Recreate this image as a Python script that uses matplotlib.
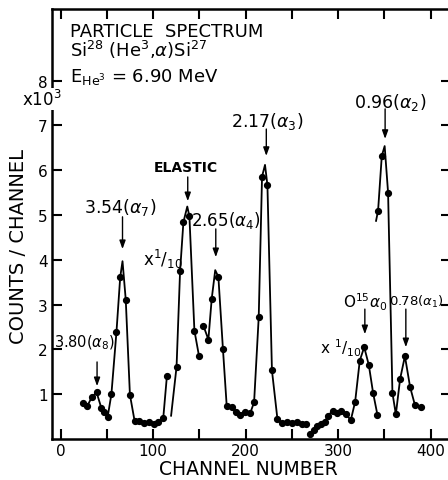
import matplotlib
matplotlib.use("Agg")
import matplotlib.pyplot as plt
import numpy as np

# ---------------- data ----------------
# segment 1: 3.80(a8) and 3.54(a7) peaks + valley
seg1_ch = [24, 29, 34, 39, 44, 47.5, 51, 55, 60.5, 64.5, 70.5, 75, 80, 85, 90, 95.5, 100.5, 105, 111, 115]
seg1_ct = [0.81, 0.74, 0.94, 1.04, 0.70, 0.60, 0.50, 1.00, 2.40, 3.61, 3.11, 0.99, 0.41, 0.41, 0.36, 0.38, 0.33, 0.38, 0.46, 1.41]
seg1_apex_ch = [67]
seg1_apex_ct = [3.97]

# segment 2: elastic peak (x 1/10)
seg2_ch = [125.4, 129.2, 132.8, 139.3, 144.7, 149.7]
seg2_ct = [1.61, 3.74, 4.84, 4.97, 2.42, 1.85]
seg2_apex_ch = [119.5, 137]
seg2_apex_ct = [0.52, 5.19]

# segment 3: 2.65(a4) and 2.17(a3)
seg3_ch = [154.4, 159.8, 163.4, 170.6, 175.5, 179.6, 185, 189.4, 194, 199.5, 204.9, 209.2, 214.2,
           217.8, 223.6, 228.5, 234.4, 239.1, 244.5, 249.9, 255.4, 260.8, 265.4]
seg3_ct = [2.53, 2.22, 3.13, 3.62, 2.02, 0.74, 0.71, 0.61, 0.54, 0.61, 0.57, 0.82, 2.72,
           5.86, 5.67, 1.53, 0.45, 0.35, 0.38, 0.35, 0.37, 0.34, 0.33]
seg3_apex_ch = [167.2, 221]
seg3_apex_ct = [3.77, 6.12]

# segment 4: O15 alpha0 (x 1/10)
seg4_ch = [269.5, 273.5, 277.6, 282, 285.6, 289.2, 294, 298.6, 303.6, 308.3, 313.7, 318.4, 323.4,
           328.2, 333.2, 337.8, 342.5]
seg4_ct = [0.11, 0.21, 0.28, 0.33, 0.39, 0.52, 0.63, 0.58, 0.63, 0.56, 0.42, 0.83, 1.75,
           2.05, 1.65, 1.03, 0.54]
seg4_apex_ch = []
seg4_apex_ct = []

# segment 5: 0.96(a2) and 0.78(a1)
seg5_ch = [343.2, 347.2, 354, 358.7, 362.4, 367, 372.2, 377.8, 383, 389.2]
seg5_ct = [5.10, 6.32, 5.50, 1.03, 0.55, 1.34, 1.85, 1.16, 0.76, 0.71]
seg5_apex_ch = [341, 350.3]
seg5_apex_ct = [4.87, 6.54]

x_major = [0, 100, 200, 300, 400]
x_minor = [50, 150, 250, 350]
y_ticks = [1, 2, 3, 4, 5, 6, 7, 8]

segments = [
    (seg1_ch, seg1_ct, seg1_apex_ch, seg1_apex_ct),
    (seg2_ch, seg2_ct, seg2_apex_ch, seg2_apex_ct),
    (seg3_ch, seg3_ct, seg3_apex_ch, seg3_apex_ct),
    (seg4_ch, seg4_ct, seg4_apex_ch, seg4_apex_ct),
    (seg5_ch, seg5_ct, seg5_apex_ch, seg5_apex_ct),
]

# ---------------- figure ----------------
plt.rcParams['font.family'] = ['DejaVu Sans']
plt.rcParams['mathtext.fontset'] = 'dejavusans'

fig = plt.figure(figsize=(4.48, 4.81), dpi=100)
ax = fig.add_axes([52 / 448, 41 / 481, 399 / 448, 430 / 481])
ax.set_xlim(-9.2, 422)
ax.set_ylim(0, 9.6)

for ch, ct, ach, act in segments:
    lx = np.array(list(ch) + list(ach))
    ly = np.array(list(ct) + list(act))
    order = np.argsort(lx)
    ax.plot(lx[order], ly[order], color='black', lw=1.3, solid_joinstyle='round')
    ax.plot(ch, ct, 'o', color='black', ms=4.2)

for s in ax.spines.values():
    s.set_linewidth(1.8)

ax.set_xticks(x_major)
ax.set_xticks(x_minor, minor=True)
ax.set_xticklabels([str(v) for v in x_major])
ax.set_yticks(y_ticks)
ax.set_yticklabels([str(v) for v in y_ticks])
ax.tick_params(which='both', direction='in', top=True, right=True,
               length=7, width=1.5, labelsize=11, pad=3)

ax.set_xlabel('CHANNEL NUMBER', fontsize=13.5)
ax.xaxis.set_label_coords(0.491, -0.047)
ax.set_ylabel('COUNTS / CHANNEL', fontsize=14)
ax.yaxis.set_label_coords(-0.06, 0.449)

# header text
ax.text(10.3, 9.11, 'PARTICLE  SPECTRUM', fontsize=13, ha='left', va='center')
ax.text(10.3, 8.71, r'Si$^{28}$ (He$^{3}$,$\alpha$)Si$^{27}$', fontsize=13, ha='left', va='center')
ax.text(10.3, 8.10, r'E$_{\mathrm{He}^{3}}$ = 6.90 MeV', fontsize=13, ha='left', va='center')

# x10^3 multiplier (covers the spine like the original)
ax.text(-20, 7.59, r'x10$^{3}$', fontsize=12, ha='center', va='center', clip_on=False,
        bbox=dict(facecolor='white', edgecolor='none', pad=0.5), zorder=5)

def arrow(x, y0, y1):
    ax.annotate('', xy=(x, y1), xytext=(x, y0),
                arrowprops=dict(arrowstyle='-|>,head_length=0.5,head_width=0.18',
                                color='black', lw=1.0, shrinkA=0, shrinkB=0))

ax.text(-7, 2.17, r'3.80($\alpha_8$)', fontsize=10.5, ha='left', va='center')
arrow(39.5, 1.72, 1.18)
ax.text(64.3, 5.20, r'3.54($\alpha_7$)', fontsize=12.5, ha='center', va='center')
arrow(67, 4.96, 4.24)
ax.text(135, 6.07, 'ELASTIC', fontsize=10, fontweight='bold', ha='center', va='center')
arrow(137.5, 5.85, 5.31)
ax.text(111, 4.02, r'x$^{1}$/$_{10}$', fontsize=12, ha='center', va='center')
ax.text(141, 4.91, r'2.65($\alpha_4$)', fontsize=12, ha='left', va='center')
arrow(167.8, 4.69, 4.06)
ax.text(223, 7.10, r'2.17($\alpha_3$)', fontsize=12.5, ha='center', va='center')
arrow(222.4, 6.92, 6.32)
ax.text(356, 7.54, r'0.96($\alpha_2$)', fontsize=12.5, ha='center', va='center')
arrow(350.8, 7.37, 6.70)
ax.text(329, 3.08, r'O$^{15}\alpha_0$', fontsize=11, ha='center', va='center')
arrow(328.9, 2.90, 2.34)
ax.text(303, 2.05, r'x $^{1}$/$_{10}$', fontsize=11, ha='center', va='center')
ax.text(355.5, 3.08, r'0.78($\alpha_1$)', fontsize=9.5, ha='left', va='center', clip_on=False)
arrow(373.2, 2.90, 2.05)

fig.savefig('out.png', dpi=100, facecolor='white')
